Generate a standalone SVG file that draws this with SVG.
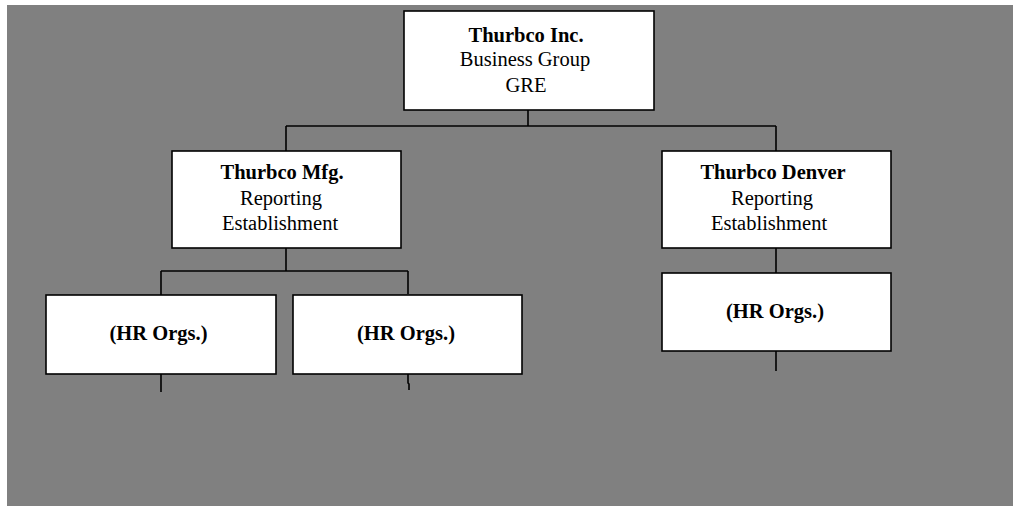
<svg xmlns="http://www.w3.org/2000/svg" width="1013" height="508" viewBox="0 0 1013 508">
<style>
.box{fill:#fff;stroke:#000;stroke-width:1.6}
.ln{fill:none;stroke:#000;stroke-width:1.6}
text{font-family:"Liberation Serif","Times New Roman",serif;font-size:20.5px;fill:#000;text-anchor:middle}
.b{font-weight:bold}
</style>
<rect x="0" y="0" width="1013" height="508" fill="#fff"/>
<rect x="7" y="5" width="1006" height="501" fill="#808080"/>
<g id="connectors">
<path class="ln" d="M528,110 V126 M286,126 H776 M286,126 V151 M776,126 V151"/>
<path class="ln" d="M286,248 V271 M161,271 H408 M161,271 V295 M408,271 V294"/>
<path class="ln" d="M161,374 V392 M408,374 V383 L409,384 V390"/>
<path class="ln" d="M776,248 V273 M776,351 V371"/>
</g>
<g id="thurbco-inc">
<rect class="box" x="404" y="11" width="250" height="99"/>
<text class="b" x="526" y="41.5">Thurbco Inc.</text>
<text x="525" y="66">Business Group</text>
<text x="526" y="91.5">GRE</text>
</g>
<g id="thurbco-mfg">
<rect class="box" x="172" y="151" width="229" height="97"/>
<text class="b" x="282" y="179">Thurbco Mfg.</text>
<text x="281" y="205">Reporting</text>
<text x="280" y="230">Establishment</text>
</g>
<g id="thurbco-denver">
<rect class="box" x="662" y="151" width="229" height="97"/>
<text class="b" x="773" y="179">Thurbco Denver</text>
<text x="772" y="205">Reporting</text>
<text x="769" y="230">Establishment</text>
</g>
<g id="hr-orgs-1">
<rect class="box" x="46" y="295" width="230" height="79"/>
<text class="b" x="158.5" y="340">(HR Orgs.)</text>
</g>
<g id="hr-orgs-2">
<rect class="box" x="293" y="295" width="229" height="79"/>
<text class="b" x="406" y="340">(HR Orgs.)</text>
</g>
<g id="hr-orgs-3">
<rect class="box" x="662" y="273" width="229" height="78"/>
<text class="b" x="775" y="317.5">(HR Orgs.)</text>
</g>
</svg>
